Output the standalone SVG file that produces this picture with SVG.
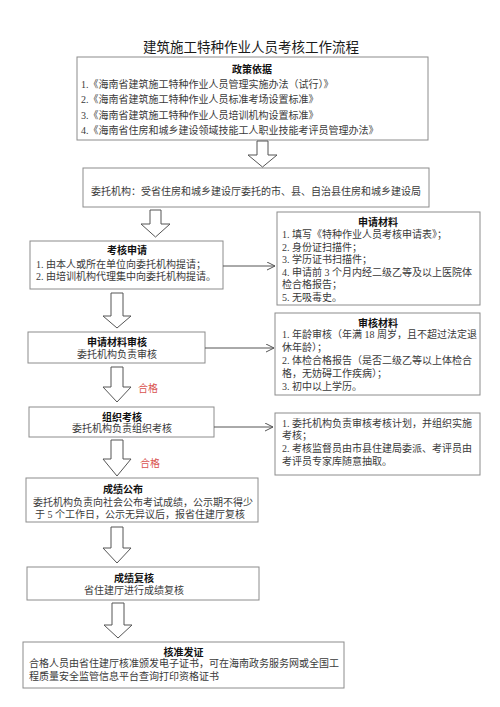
<svg xmlns="http://www.w3.org/2000/svg" width="500" height="707" viewBox="0 0 500 707">
<style>
.bg{fill:#fff}
.box{fill:#fff;stroke:#8c8c8c;stroke-width:1}
.t{font-family:"Liberation Serif","Noto Sans CJK SC",serif;font-size:10px;fill:#3a3a3a}
.h{font-family:"Liberation Sans","Noto Sans CJK SC",sans-serif;font-size:10px;font-weight:bold;fill:#111;text-anchor:middle}
.c{text-anchor:middle}
.title{font-family:"Liberation Sans","Noto Sans CJK SC",sans-serif;font-size:13.5px;fill:#1a1a1a;text-anchor:middle}
.red{font-family:"Liberation Serif","Noto Sans CJK SC",serif;font-size:10px;fill:#d9534f}
.blk{fill:#fff;stroke:#555;stroke-width:1}
.ln{stroke:#555;stroke-width:1;fill:none;marker-end:url(#ah)}
</style>
<defs>
<marker id="ah" markerWidth="10" markerHeight="10" refX="8" refY="4" orient="auto" markerUnits="userSpaceOnUse">
<path d="M0,0 L8,4 L0,8" fill="none" stroke="#555" stroke-width="1"/>
</marker>
</defs>
<rect class="bg" x="0" y="0" width="500" height="707"/>
<text class="title" x="251" y="52">建筑施工特种作业人员考核工作流程</text>

<g id="policy">
<rect class="box" x="77" y="57" width="351" height="83"/>
<text class="h" x="252" y="72.5">政策依据</text>
<text class="t" x="81" y="87.5">1.《海南省建筑施工特种作业人员管理实施办法（试行）》</text>
<text class="t" x="81" y="103">2.《海南省建筑施工特种作业人员标准考场设置标准》</text>
<text class="t" x="81" y="118.5">3.《海南省建筑施工特种作业人员培训机构设置标准》</text>
<text class="t" x="81" y="134">4.《海南省住房和城乡建设领域技能工人职业技能考评员管理办法》</text>
</g>

<g id="agency">
<rect class="box" x="83" y="168" width="346" height="39"/>
<text class="t" x="91" y="195">委托机构：受省住房和城乡建设厅委托的市、县、自治县住房和城乡建设局</text>
</g>

<g id="apply">
<rect class="box" x="30" y="241" width="193" height="48"/>
<text class="h" x="127" y="253.5">考核申请</text>
<text class="t" x="36" y="267.5">1. 由本人或所在单位向委托机构提请；</text>
<text class="t" x="36" y="280">2. 由培训机构代理集中向委托机构提请。</text>
</g>

<g id="materials">
<rect class="box" x="277" y="212" width="203" height="93"/>
<text class="h" x="378" y="225.5">申请材料</text>
<text class="t" x="282" y="238">1. 填写《特种作业人员考核申请表》；</text>
<text class="t" x="282" y="250.5">2. 身份证扫描件；</text>
<text class="t" x="282" y="263">3. 学历证书扫描件；</text>
<text class="t" x="282" y="275.5">4. 申请前 3 个月内经二级乙等及以上医院体</text>
<text class="t" x="282" y="288">检合格报告；</text>
<text class="t" x="282" y="300.5">5. 无吸毒史。</text>
</g>

<g id="review">
<rect class="box" x="28" y="332" width="177" height="31"/>
<text class="h" x="117" y="345.5">申请材料审核</text>
<text class="t c" x="117" y="357.5">委托机构负责审核</text>
</g>

<g id="review-materials">
<rect class="box" x="275" y="313" width="205" height="82"/>
<text class="h" x="378" y="326.5">审核材料</text>
<text class="t" x="282" y="337.5">1. 年龄审核（年满 18 周岁，且不超过法定退</text>
<text class="t" x="282" y="350.5">休年龄）；</text>
<text class="t" x="282" y="363.5">2. 体检合格报告（是否二级乙等以上体检合</text>
<text class="t" x="282" y="376.5">格，无妨碍工作疾病）；</text>
<text class="t" x="282" y="389.5">3. 初中以上学历。</text>
</g>

<g id="exam">
<rect class="box" x="29" y="407" width="185" height="30"/>
<text class="h" x="122" y="420.5">组织考核</text>
<text class="t c" x="122" y="431.5">委托机构负责组织考核</text>
</g>

<g id="exam-notes">
<rect class="box" x="275" y="413" width="205" height="62"/>
<text class="t" x="282" y="426.5">1. 委托机构负责审核考核计划，并组织实施</text>
<text class="t" x="282" y="439">考核；</text>
<text class="t" x="282" y="452">2. 考核监督员由市县住建局委派、考评员由</text>
<text class="t" x="282" y="465">考评员专家库随意抽取。</text>
</g>

<g id="publish">
<rect class="box" x="26" y="478" width="232" height="44"/>
<text class="h" x="123" y="492.5">成绩公布</text>
<text class="t" x="33" y="506">委托机构负责向社会公布考试成绩，公示期不得少</text>
<text class="t" x="35" y="517.5">于 5 个工作日，公示无异议后，报省住建厅复核</text>
</g>

<g id="recheck">
<rect class="box" x="27" y="567" width="232" height="33"/>
<text class="h" x="134" y="581.5">成绩复核</text>
<text class="t c" x="134" y="593.5">省住建厅进行成绩复核</text>
</g>

<g id="certify">
<rect class="box" x="23" y="642" width="321" height="46"/>
<text class="h" x="183.5" y="655.5">核准发证</text>
<text class="t" x="29" y="667">合格人员由省住建厅核准颁发电子证书，可在海南政务服务网或全国工</text>
<text class="t" x="29" y="680">程质量安全监管信息平台查询打印资格证书</text>
</g>

<g id="connectors">
<path class="blk" d="M257,141 H268 V155 H277 L262.5,167 L248,155 H257 Z"/>
<path class="blk" d="M150,210 H161 V224 H170 L155.5,237 L141,224 H150 Z"/>
<path class="blk" d="M111,293 H123 V316 H131 L117,328 L103,316 H111 Z"/>
<path class="blk" d="M111,367 H123 V387 H131 L117,402 L103,387 H111 Z"/>
<path class="blk" d="M111,440 H123 V459 H131 L117,476 L103,459 H111 Z"/>
<path class="blk" d="M111,527 H123 V548 H131 L117,563 L103,548 H111 Z"/>
<path class="blk" d="M112,603 H124 V625 H132 L118,638 L104,625 H112 Z"/>
<line class="ln" x1="223" y1="266" x2="275" y2="266"/>
<line class="ln" x1="205" y1="348" x2="274" y2="348"/>
<line class="ln" x1="214" y1="427" x2="273" y2="427"/>
<text class="red" x="138" y="391.5">合格</text>
<text class="red" x="140" y="466.5">合格</text>
</g>
</svg>
